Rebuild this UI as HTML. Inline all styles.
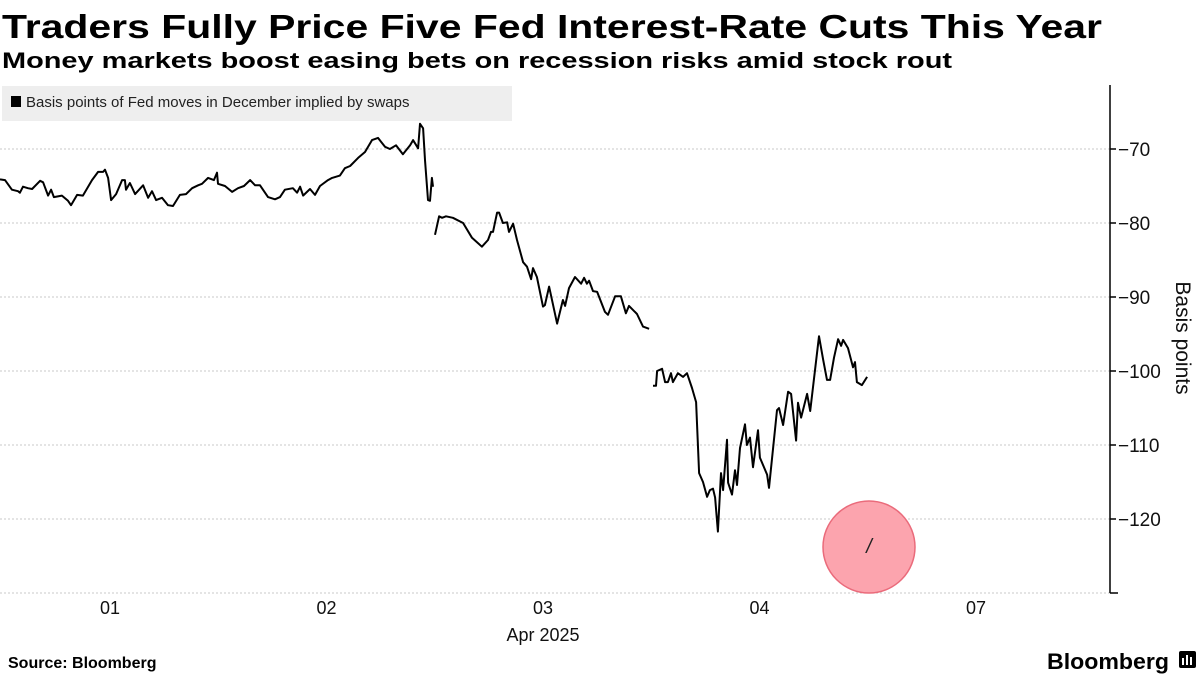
<!DOCTYPE html>
<html><head><meta charset="utf-8"><style>
html,body{margin:0;padding:0;background:#fff;width:1200px;height:675px;overflow:hidden}
svg{display:block;font-family:"Liberation Sans",sans-serif}
</style></head><body>
<svg id="chart" width="1200" height="675" viewBox="0 0 1200 675">
<text x="2" y="38" font-size="33" font-weight="bold" textLength="1100" lengthAdjust="spacingAndGlyphs">Traders Fully Price Five Fed Interest-Rate Cuts This Year</text>
<text x="2" y="68" font-size="22" font-weight="bold" textLength="950" lengthAdjust="spacingAndGlyphs">Money markets boost easing bets on recession risks amid stock rout</text>
<g>
<rect x="2" y="86" width="510" height="35" fill="#eeeeee"/>
<rect x="11" y="96" width="10" height="11" fill="#000"/>
<text x="26" y="107" font-size="15" fill="#222">Basis points of Fed moves in December implied by swaps</text>
</g>
<g id="grid"></g>
<g id="axes"></g>
<g id="series"></g>
<g>
<circle cx="869" cy="547" r="46" fill="#fca4ae" stroke="#ea6b7b" stroke-width="1.5"/>
<text x="869" y="553" font-size="20" text-anchor="middle" font-style="italic" fill="#222">/</text>
</g>
<text transform="translate(1176,338) rotate(90)" font-size="21" text-anchor="middle" fill="#111">Basis points</text>
<text x="8" y="668" font-size="16" font-weight="bold">Source: Bloomberg</text>
<text x="1047" y="669" font-size="22" font-weight="bold" textLength="122" lengthAdjust="spacingAndGlyphs">Bloomberg</text>
<g><rect x="1179" y="651" width="17" height="17" rx="2" fill="#000"/><rect x="1182" y="658" width="2" height="7" fill="#fff"/><rect x="1186" y="655" width="2" height="10" fill="#fff"/><rect x="1190" y="657" width="2" height="8" fill="#fff"/></g>
</svg>
<script>
const yTicks=[-70,-80,-90,-100,-110,-120];
const xTickLabels=["01","02","03","04","07"];
const xTickDays=[1,2,3,4,5];
const seg1T=[0.492,0.515,0.547,0.575,0.584,0.598,0.621,0.640,0.677,0.691,0.714,0.728,0.741,0.778,0.806,0.820,0.848,0.875,0.917,0.945,0.968,0.977,0.991,1.005,1.028,1.056,1.069,1.074,1.092,1.116,1.153,1.176,1.194,1.213,1.240,1.268,1.291,1.323,1.351,1.379,1.407,1.425,1.453,1.480,1.494,1.499,1.531,1.564,1.591,1.619,1.647,1.670,1.693,1.730,1.762,1.785,1.808,1.845,1.864,1.878,1.892,1.924,1.947,1.970,2.007,2.026,2.062,2.085,2.109,2.146,2.178,2.210,2.238,2.270,2.293,2.321,2.353,2.386,2.400,2.423,2.432,2.446,2.455,2.469,2.478,2.487,2.492];
const seg1V=[-74.1,-74.2,-75.5,-75.7,-75.9,-75.1,-75.3,-75.4,-74.3,-74.5,-76.3,-75.5,-76.5,-76.3,-77.0,-77.6,-76.2,-76.3,-74.2,-73.1,-73.1,-72.8,-73.9,-76.9,-76.1,-74.2,-74.2,-75.5,-74.6,-76.1,-74.9,-76.6,-75.7,-76.9,-76.6,-77.6,-77.7,-76.2,-76.1,-75.3,-74.9,-74.7,-73.9,-74.2,-73.2,-74.7,-75.0,-75.8,-75.3,-75.0,-74.2,-74.9,-74.9,-76.5,-76.8,-76.5,-75.5,-75.3,-75.9,-75.1,-76.3,-75.4,-76.2,-75.0,-74.2,-73.9,-73.6,-72.6,-72.3,-71.2,-70.4,-68.8,-68.5,-69.7,-70.0,-69.5,-70.7,-69.5,-68.8,-69.9,-66.6,-67.2,-71.5,-76.9,-77.0,-73.9,-75.1];
const seg2T=[2.501,2.520,2.534,2.552,2.584,2.631,2.672,2.695,2.718,2.746,2.760,2.769,2.788,2.797,2.815,2.834,2.843,2.862,2.880,2.908,2.926,2.945,2.954,2.972,3.000,3.009,3.028,3.065,3.092,3.102,3.120,3.148,3.176,3.190,3.203,3.213,3.231,3.250,3.286,3.300,3.333,3.360,3.383,3.397,3.434,3.462,3.490];
const seg2V=[-81.6,-79.1,-79.3,-79.1,-79.3,-80.0,-82.0,-82.6,-83.2,-82.3,-81.2,-81.2,-78.6,-78.6,-80.0,-79.9,-81.2,-80.1,-82.3,-85.3,-85.9,-87.6,-86.1,-87.3,-91.3,-91.1,-88.6,-93.6,-90.4,-91.2,-88.8,-87.3,-88.2,-87.4,-88.2,-87.8,-89.2,-89.3,-92.0,-92.4,-89.9,-89.9,-92.2,-91.2,-92.3,-94.0,-94.3];
const seg3T=[3.508,3.522,3.527,3.550,3.564,3.577,3.591,3.600,3.623,3.647,3.665,3.688,3.707,3.721,3.739,3.758,3.771,3.785,3.795,3.808,3.822,3.832,3.850,3.855,3.873,3.887,3.896,3.910,3.933,3.942,3.956,3.970,3.993,4.002,4.035,4.044,4.081,4.090,4.109,4.132,4.146,4.169,4.178,4.192,4.220,4.234,4.275,4.294,4.312,4.326,4.344,4.363,4.377,4.386,4.409,4.432,4.441,4.450,4.473,4.497];
const seg3V=[-102.0,-102.0,-100.0,-99.7,-101.5,-101.5,-100.3,-101.5,-100.3,-100.8,-100.3,-102.3,-104.2,-113.8,-115.0,-117.0,-116.1,-115.9,-117.1,-121.7,-113.8,-116.1,-109.3,-115.1,-116.7,-113.4,-115.4,-110.4,-107.2,-110.0,-109.0,-113.0,-108.0,-111.7,-114.0,-115.8,-105.3,-105.0,-107.3,-102.8,-103.1,-109.4,-104.3,-106.3,-103.1,-105.4,-95.3,-98.5,-101.2,-101.2,-98.2,-95.7,-96.6,-95.8,-96.9,-99.5,-98.8,-101.5,-101.9,-100.8];

const NS="http://www.w3.org/2000/svg";
function yS(v){return 149+(-70-v)*7.4;}
function xS(t){return 110+(t-1)*216.5;}
const AX=1110,TOP=85,BOT=593;
const grid=document.getElementById('grid'),axes=document.getElementById('axes'),series=document.getElementById('series');
function mk(tag,attrs,parent){const e=document.createElementNS(NS,tag);for(const k in attrs)e.setAttribute(k,attrs[k]);parent.appendChild(e);return e;}
yTicks.forEach(v=>{
  const y=yS(v);
  const g=mk('line',{x1:0,x2:AX,y1:y,y2:y,stroke:'#c8c8c8','stroke-dasharray':'2,2','stroke-width':1},grid);
  
  
  const tk=mk('line',{x1:AX,x2:AX+6,y1:y,y2:y,stroke:'#000','stroke-width':1.5},axes);
  
  
  const t=mk('text',{x:AX+8,y:y+7,'font-size':19,fill:'#111'},axes);
  t.textContent=String(v).replace('-','\u2212');
  
  
});
const bl=mk('line',{x1:0,x2:AX,y1:BOT,y2:BOT,stroke:'#c8c8c8','stroke-dasharray':'2,2'},grid);


const ax=mk('line',{x1:AX,x2:AX,y1:TOP,y2:BOT,stroke:'#000','stroke-width':1.5},axes);


const ax2=mk('line',{x1:AX,x2:AX+8,y1:BOT,y2:BOT,stroke:'#000','stroke-width':1.5},axes);


xTickLabels.forEach((lab,i)=>{
  const t=mk('text',{x:xS(xTickDays[i]),y:614,'font-size':18,'text-anchor':'middle',fill:'#111'},axes);
  t.textContent=lab;
  
  
});
const xm=mk('text',{x:xS(3),y:641,'font-size':18,'text-anchor':'middle',fill:'#111'},axes);
xm.textContent='Apr 2025';


[[seg1T,seg1V],[seg2T,seg2V],[seg3T,seg3V]].forEach((s,i)=>{
  const d=s[0].map((t,j)=>(j?'L':'M')+xS(t).toFixed(1)+','+yS(s[1][j]).toFixed(1)).join(' ');
  const p=mk('path',{d:d,fill:'none',stroke:'#000','stroke-width':2,'stroke-linejoin':'round'},series);
  
  
});
</script>
</body></html>
